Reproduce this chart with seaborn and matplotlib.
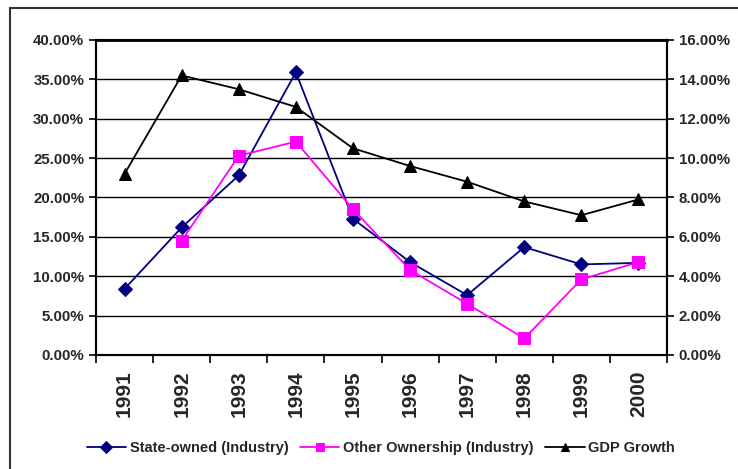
import numpy as np
import pandas as pd
import matplotlib
matplotlib.use("Agg")
import matplotlib.pyplot as plt
from matplotlib.ticker import PercentFormatter, FixedLocator, NullFormatter
from matplotlib.patches import Rectangle
import seaborn as sns

years = ["1991", "1992", "1993", "1994", "1995", "1996", "1997", "1998", "1999", "2000"]
state_owned = [8.4, 16.2, 22.8, 35.9, 17.3, 11.8, 7.6, 13.7, 11.5, 11.7]
other_ownership = [np.nan, 14.5, 25.3, 27.1, 18.5, 10.8, 6.5, 2.1, 9.6, 11.8]
gdp_growth = [9.2, 14.2, 13.5, 12.6, 10.5, 9.6, 8.8, 7.8, 7.1, 7.9]

sns.set_style("white")
plt.rcParams['font.family'] = ['Liberation Sans', 'DejaVu Sans']
plt.rcParams['font.weight'] = 'bold'

fig = plt.figure(figsize=(7.38, 4.69), dpi=100)
ax = fig.add_axes([96/738, 1-355/469, (667-96)/738, (355-40)/469])
ax2 = ax.twinx()

xpos = np.arange(len(years))
df = pd.DataFrame({"x": xpos, "state": state_owned, "other": other_ownership, "gdp": gdp_growth})

sns.lineplot(data=df, x="x", y="state", ax=ax, color="#000080", marker="D", markersize=7,
             markeredgecolor="#000080", linewidth=1.3, label="State-owned (Industry)", legend=False)
sns.lineplot(data=df.dropna(subset=["other"]), x="x", y="other", ax=ax, color="#FF00FF", marker="s", markersize=8,
             markeredgecolor="#FF00FF", linewidth=1.3, label="Other Ownership (Industry)", legend=False)
sns.lineplot(data=df, x="x", y="gdp", ax=ax2, color="black", marker="^", markersize=9,
             markeredgecolor="black", linewidth=1.3, label="GDP Growth", legend=False)

ax.set_xlim(-0.5, len(years) - 0.5)
ax.set_ylim(0, 40)
ax2.set_ylim(0, 16)
ax.set_yticks(np.arange(0, 40.1, 5))
ax2.set_yticks(np.arange(0, 16.1, 2))
ax.yaxis.set_major_formatter(PercentFormatter(decimals=2))
ax2.yaxis.set_major_formatter(PercentFormatter(decimals=2))
ax.grid(axis="y", color="black", linewidth=1.0)
ax.grid(axis="x", visible=False)
ax2.grid(False)

ax.set_xticks(xpos)
ax.set_xticklabels(years, rotation=90, fontsize=15, fontweight="bold")
ax.xaxis.set_minor_locator(FixedLocator(np.arange(-0.5, len(years), 1)))
ax.xaxis.set_minor_formatter(NullFormatter())
ax.tick_params(axis="x", which="major", length=0, pad=11)
ax.tick_params(axis="x", which="minor", length=6, width=1.2, color="black", direction="out", bottom=True)
ax.tick_params(axis="y", length=5, width=1.2, color="black", direction="out", left=True, labelsize=10.8)
ax2.tick_params(axis="y", length=5, width=1.2, color="black", direction="out", right=True, labelsize=10.8)
for lab in ax.get_yticklabels() + ax2.get_yticklabels():
    lab.set_fontweight("bold")

ax.set_xlabel("")
ax.set_ylabel("")
ax2.set_ylabel("")
for a in (ax, ax2):
    for s in a.spines.values():
        s.set_color("black")
        s.set_linewidth(1.5)
ax.spines["top"].set_linewidth(2)

h1, l1 = ax.get_legend_handles_labels()
h2, l2 = ax2.get_legend_handles_labels()
leg = fig.legend(h1 + h2, l1 + l2, loc="center", bbox_to_anchor=(0.516, 0.045), ncol=3,
                 frameon=False, handlelength=2.7, columnspacing=0.8, handletextpad=0.25,
                 prop={"weight": "bold", "size": 10.5})
for h in leg.legend_handles:
    h.set_markersize(6)

fig.patches.append(Rectangle((10/738, -0.1), 1.2, 1.1 - 8/469, transform=fig.transFigure,
                             fill=False, edgecolor="#333333", linewidth=1.5))

fig.savefig("out.png", dpi=100)
